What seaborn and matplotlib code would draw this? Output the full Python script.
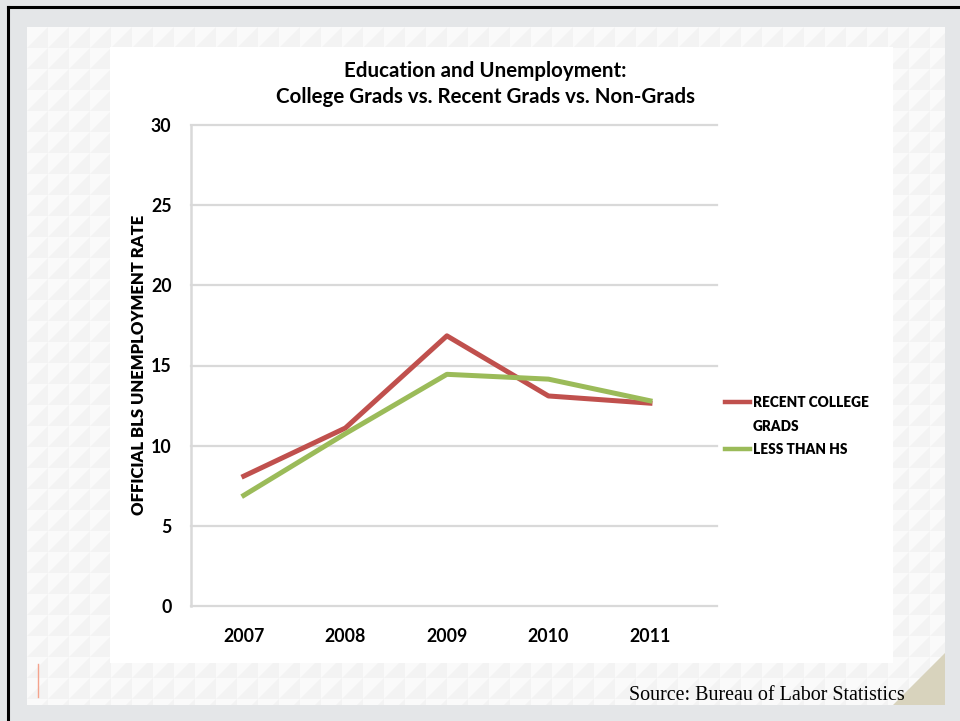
import numpy as np
import pandas as pd
import matplotlib
matplotlib.use("Agg")
import matplotlib.pyplot as plt
import seaborn as sns
from matplotlib.patches import Rectangle, Polygon
from matplotlib.collections import PolyCollection
from matplotlib.lines import Line2D

# ---- data ----
years = [2007, 2008, 2009, 2010, 2011]
recent_college_grads = [8.1, 11.1, 16.85, 13.1, 12.65]
less_than_hs = [6.9, 10.75, 14.45, 14.15, 12.8]
series_names = ["Recent College Grads", "Less Than HS"]
legend_labels = ["RECENT COLLEGE", "GRADS", "LESS THAN HS"]
y_ticks = [0, 5, 10, 15, 20, 25, 30]
title_text = "Education and Unemployment:\nCollege Grads vs. Recent Grads vs. Non-Grads"
ylabel_text = "OFFICIAL BLS UNEMPLOYMENT RATE"
source_text = "Source: Bureau of Labor Statistics"

df = pd.DataFrame({
    "Year": years + years,
    "Rate": recent_college_grads + less_than_hs,
    "Series": [series_names[0]] * len(years) + [series_names[1]] * len(years),
})

W, H = 960, 721
fig = plt.figure(figsize=(W / 100, H / 100), dpi=100)
fig.patch.set_facecolor("#e4e6e8")

def P(x, y):
    return (x / W, 1 - y / H)

def rect(x0, y0, x1, y1, **kw):
    r = Rectangle(P(x0, y1), (x1 - x0) / W, (y1 - y0) / H, transform=fig.transFigure, **kw)
    fig.patches.append(r)
    return r

# patterned area
base = rect(27, 27, 945, 705, facecolor="#f3f3f3", edgecolor="none", zorder=-9)
tris = []
cell = 21
for gx in range(27, 945, cell):
    for gy in range(27, 705, cell):
        tris.append([P(gx, gy), P(gx + cell, gy), P(gx, gy + cell)])
pc = PolyCollection(tris, facecolors="#fafafa", edgecolors="none", transform=fig.transFigure, zorder=-8)
pc.set_clip_path(base)
fig.add_artist(pc)
# white panel
rect(110, 47, 893, 663, facecolor="white", edgecolor="none", zorder=-7)
# page curl
curl = Polygon([P(893, 705), P(945, 653), P(945, 705)], closed=True, transform=fig.transFigure,
               facecolor="#d8d3bd", edgecolor="none", zorder=-6)
fig.patches.append(curl)
# small red mark
fig.add_artist(Line2D([38 / W, 38 / W], [1 - 664 / H, 1 - 697 / H], transform=fig.transFigure,
                      color="#f4a28c", lw=1.0, zorder=-5))
# black borders (top & left)
fig.add_artist(Line2D([8 / W, 8 / W], [0, 1 - 7 / H], transform=fig.transFigure, color="black", lw=2.2))
fig.add_artist(Line2D([8 / W, 1], [1 - 7 / H, 1 - 7 / H], transform=fig.transFigure, color="black", lw=2.2))

# ---- axes ----
ax_l, ax_r, ax_t, ax_b = 191, 717, 125, 606
ax = fig.add_axes([ax_l / W, 1 - ax_b / H, (ax_r - ax_l) / W, (ax_b - ax_t) / H])
ax.set_facecolor("white")

sns.lineplot(data=df, x="Year", y="Rate", hue="Series", hue_order=series_names,
             palette=["#c0504d", "#9bbb59"], linewidth=3.6, sort=False, ax=ax)

ax.set_xlim(2006.48, 2011.66)
ax.set_ylim(0, 30)
ax.set_xticks(years)
ax.set_yticks(y_ticks)
tick_font = dict(family="Lato", weight="bold", size=12.8)
ax.set_xticklabels([str(y) for y in years], fontdict=tick_font)
ax.set_yticklabels([str(t) for t in y_ticks], fontdict=tick_font)
ax.tick_params(axis="both", length=0)
ax.tick_params(axis="y", pad=14)
ax.tick_params(axis="x", pad=16)
ax.grid(axis="y", color="#d9d9d9", lw=1.6)
ax.grid(axis="x", visible=False)
ax.set_axisbelow(True)
for gl in ax.get_ygridlines():
    gl.set_clip_on(False)
for s in ["top", "right", "bottom"]:
    ax.spines[s].set_visible(False)
ax.spines["left"].set_color("#d9d9d9")
ax.spines["left"].set_linewidth(1.8)
ax.set_xlabel("")
ax.set_ylabel("")

# legend
handles = ax.get_legend().legend_handles
ax.get_legend().remove()
blank = Line2D([], [], color="none")
leg = fig.legend([handles[0], blank, handles[1]], legend_labels,
                 loc="upper left", bbox_to_anchor=P(725, 396), frameon=False,
                 prop=dict(family="Lato", weight="heavy", size=9.8),
                 handlelength=1.85, handletextpad=0.2, labelspacing=0.78, borderpad=0, borderaxespad=0)
for lh in leg.get_lines():
    lh.set_linewidth(3.2)

# title, labels
fig.text(485 / W, 1 - 84 / H, title_text, ha="center", va="center", family="Lato", weight="bold",
         size=14.8, linespacing=1.35)
fig.text(139 / W, 1 - 365 / H, ylabel_text, rotation=90, ha="center", va="center", family="Lato",
         weight="heavy", size=12.0)
fig.text(905 / W, 1 - 695 / H, source_text, ha="right", va="center", family="Liberation Serif",
         size=14.4)

fig.savefig("out.png", dpi=100, facecolor=fig.get_facecolor())
